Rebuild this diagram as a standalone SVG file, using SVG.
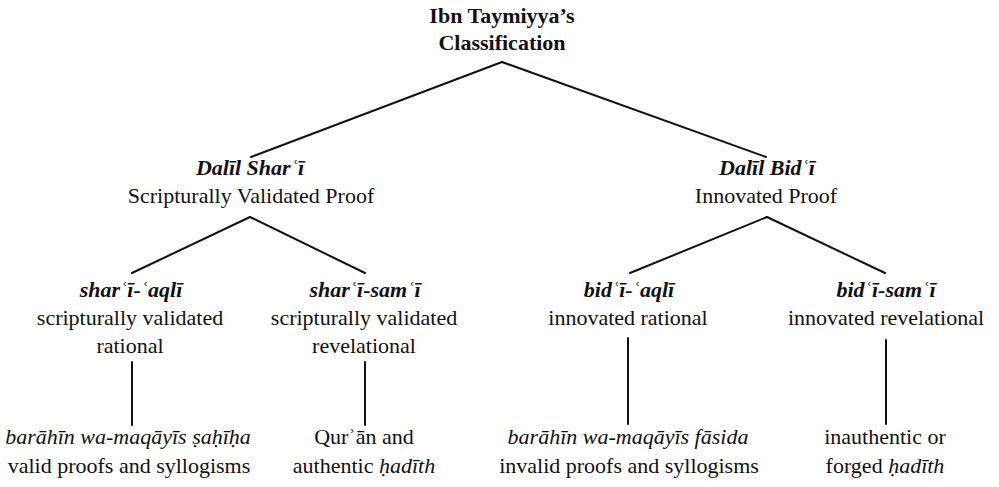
<svg xmlns="http://www.w3.org/2000/svg" width="999" height="487" viewBox="0 0 999 487" font-family="'Liberation Serif', Tinos, 'Times New Roman', 'DejaVu Serif', 'Noto Serif', serif">
<style>
text{font-family:'Liberation Serif',Tinos,'Times New Roman','DejaVu Serif','Noto Serif',serif;font-size:22px;fill:#111;text-anchor:middle}
.b{font-weight:bold}
.bi{font-weight:bold;font-style:italic}
.i{font-style:italic}
.e line{stroke:#111;stroke-width:2;stroke-linecap:round}
</style>
<rect width="999" height="487" fill="#fff"/>
<g class="e" id="connectors">
<line x1="502" y1="62" x2="251" y2="157"/>
<line x1="502" y1="62" x2="766" y2="157"/>
<line x1="250" y1="217" x2="132" y2="273"/>
<line x1="250" y1="217" x2="365" y2="273"/>
<line x1="767" y1="217" x2="630" y2="273"/>
<line x1="767" y1="217" x2="885" y2="273"/>
<line x1="132" y1="362" x2="132" y2="425"/>
<line x1="365" y1="362" x2="365" y2="425"/>
<line x1="628" y1="338" x2="628" y2="424"/>
<line x1="886" y1="340" x2="886" y2="424"/>
</g>
<g id="root">
<text class="b" x="502" y="23">Ibn Taymiyya’s</text>
<text class="b" x="502" y="50">Classification</text>
</g>
<g id="dalil-shari">
<text class="bi" x="250" y="175">Dalīl Sharʿī</text>
<text x="251" y="203">Scripturally Validated Proof</text>
</g>
<g id="dalil-bidi">
<text class="bi" x="767" y="175">Dalīl Bidʿī</text>
<text x="766" y="203">Innovated Proof</text>
</g>
<g id="shari-aqli">
<text class="bi" x="131" y="297">sharʿī-ʿaqlī</text>
<text x="130" y="325">scripturally validated</text>
<text x="130" y="353">rational</text>
</g>
<g id="shari-sami">
<text class="bi" x="365" y="297">sharʿī-samʿī</text>
<text x="364" y="325">scripturally validated</text>
<text x="364" y="353">revelational</text>
</g>
<g id="bidi-aqli">
<text class="bi" x="629" y="297">bidʿī-ʿaqlī</text>
<text x="628" y="325">innovated rational</text>
</g>
<g id="bidi-sami">
<text class="bi" x="886" y="297">bidʿī-samʿī</text>
<text x="886" y="325">innovated revelational</text>
</g>
<g id="valid">
<text class="i" x="128" y="444">barāhīn wa-maqāyīs ṣaḥīḥa</text>
<text x="129" y="473">valid proofs and syllogisms</text>
</g>
<g id="quran">
<text x="364" y="444">Qurʾān and</text>
<text x="364" y="473">authentic <tspan class="i">ḥadīth</tspan></text>
</g>
<g id="invalid">
<text class="i" x="628" y="444">barāhīn wa-maqāyīs fāsida</text>
<text x="629" y="473">invalid proofs and syllogisms</text>
</g>
<g id="forged">
<text x="885" y="444">inauthentic or</text>
<text x="885" y="473">forged <tspan class="i">ḥadīth</tspan></text>
</g>
</svg>
